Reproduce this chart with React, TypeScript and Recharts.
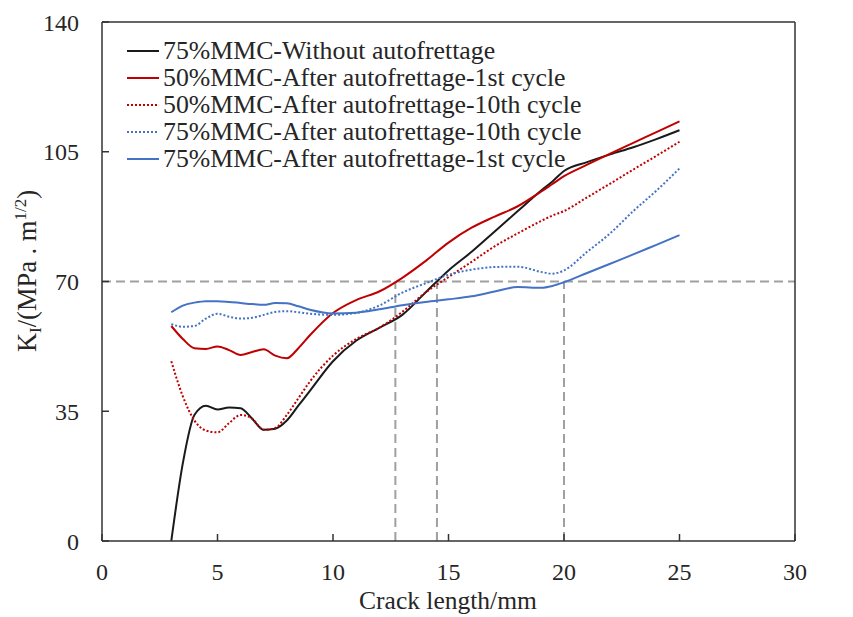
import { LineChart, Line, XAxis, YAxis, ReferenceLine, Legend } from "recharts";

const FONT = '"Liberation Serif", "Times New Roman", serif';

// crack length (mm)
const crackLength = [3, 3.5, 4, 4.5, 5, 5.5, 6, 6.5, 7, 7.5, 8, 8.5, 9, 10, 11, 12, 13, 14, 15, 16, 17, 18, 19, 19.5, 20, 21, 22, 23, 24, 25];

// K_I values (MPa.m^1/2)
const mmc75Without = [0, 21, 34, 36.5, 35.5, 36, 35.8, 33, 30, 30.3, 32.5, 36.5, 40.5, 48.5, 54, 57.5, 61, 67, 73, 78, 83.5, 89, 94.5, 97, 99.8, 102.2, 104.3, 106.2, 108.4, 110.8];
const mmc50First = [58, 54.5, 52, 51.8, 52.5, 51.5, 50.2, 51, 51.7, 50, 49.3, 52, 55.5, 61.5, 65, 67.3, 71, 75.5, 80.5, 84.5, 87.5, 90.3, 94.2, 96.3, 98.4, 101.5, 104.5, 107.4, 110.3, 113.2];
const mmc50Tenth = [48.5, 39, 32.5, 29.8, 29.3, 31.8, 34, 33, 30, 30.5, 34, 38.5, 43, 50, 54.5, 57.5, 61.8, 67, 71.2, 75.3, 79.5, 83, 86.3, 87.8, 89, 92.7, 96.4, 100.2, 103.9, 107.7];
const mmc75Tenth = [58.5, 57.8, 58, 60, 61.3, 60.5, 60, 60.2, 61, 61.8, 62, 61.7, 61.3, 61, 61.5, 63.5, 67, 69.5, 71.8, 73.2, 73.9, 74, 72.6, 72.1, 73, 78, 83, 89, 94.5, 100.5];
const mmc75First = [61.7, 63.5, 64.3, 64.7, 64.7, 64.5, 64.2, 63.9, 63.7, 64.2, 64.1, 63.3, 62.4, 61.4, 61.6, 62.5, 63.6, 64.5, 65.2, 66, 67.3, 68.5, 68.3, 68.8, 69.8, 72.3, 74.8, 77.3, 79.9, 82.5];

const crackTicks = [0, 5, 10, 15, 20, 25, 30];
const kTicks = [0, 35, 70, 105, 140];
const kThreshold = 70;
const thresholdCrack = [12.7, 14.5, 20];

const series = [
  { key: "mmc75Without", name: "75%MMC-Without autofrettage", color: "#1a1a1a", dash: undefined, values: mmc75Without },
  { key: "mmc50First", name: "50%MMC-After autofrettage-1st cycle", color: "#c00000", dash: undefined, values: mmc50First },
  { key: "mmc50Tenth", name: "50%MMC-After autofrettage-10th cycle", color: "#c00000", dash: "2 2", values: mmc50Tenth },
  { key: "mmc75Tenth", name: "75%MMC-After autofrettage-10th cycle", color: "#4472c4", dash: "2 2", values: mmc75Tenth },
  { key: "mmc75First", name: "75%MMC-After autofrettage-1st cycle", color: "#4472c4", dash: undefined, values: mmc75First },
];

const data = crackLength.map((x, i) => {
  const row: any = { crack: x };
  series.forEach((s) => (row[s.key] = s.values[i]));
  return row;
});

const tickStyle = { fontSize: 24, fill: "#262626", fontFamily: FONT };

const renderKTitle = () => (
  <text transform="translate(28,263) rotate(-90)" textAnchor="middle" fontSize={26.5} fontFamily={FONT} fill="#262626">
    K<tspan fontSize={17} dy={5}>I</tspan>
    <tspan dy={-5}>/(MPa . m</tspan>
    <tspan fontSize={17} dy={-10}>1/2</tspan>
    <tspan dy={10}>)</tspan>
  </text>
);

const renderCrackTitle = () => (
  <text x={440} y={601} textAnchor="middle" fontSize={25.5} fontFamily={FONT} fill="#262626">
    Crack length/mm
  </text>
);

const renderLegend = () => (
  <div style={{ fontFamily: FONT, fontSize: 25.8, color: "#262626", lineHeight: "27px" }}>
    {series.map((s) => (
      <div key={s.key} style={{ display: "flex", alignItems: "center", height: 27, whiteSpace: "nowrap" }}>
        <svg width={36} height={6}>
          <line x1={0} x2={32} y1={3} y2={3} stroke={s.color} strokeWidth={2} strokeDasharray={s.dash} />
        </svg>
        <span>{s.name}</span>
      </div>
    ))}
  </div>
);

export default function App() {
  return (
    <div style={{ width: 837, height: 609 }}>
      <LineChart width={837} height={609} data={data} margin={{ top: 14, right: 0, bottom: 0, left: 0 }}>
        <XAxis
          type="number"
          dataKey="crack"
          domain={[0, 30]}
          ticks={crackTicks}
          interval={0}
          height={76}
          tickSize={-7}
          tickMargin={29}
          tick={tickStyle}
          axisLine={{ stroke: "#333", strokeWidth: 1.5 }}
          tickLine={{ stroke: "#333", strokeWidth: 1.5 }}
          label={renderCrackTitle}
        />
        <YAxis
          yAxisId="left"
          domain={[0, 140]}
          ticks={kTicks}
          interval={0}
          width={94}
          tickSize={-7}
          tickMargin={30}
          tick={tickStyle}
          axisLine={{ stroke: "#333", strokeWidth: 1.5 }}
          tickLine={{ stroke: "#333", strokeWidth: 1.5 }}
          label={renderKTitle}
        />
        <YAxis
          yAxisId="right"
          orientation="right"
          domain={[0, 140]}
          ticks={kTicks}
          interval={0}
          width={50}
          tickSize={-7}
          tickMargin={30}
          tick={tickStyle}
          axisLine={{ stroke: "#333", strokeWidth: 1.5 }}
          tickLine={{ stroke: "#333", strokeWidth: 1.5 }}
        />
        <ReferenceLine yAxisId="left" y={140} stroke="#333" strokeWidth={1.5} />
        <ReferenceLine yAxisId="left" y={kThreshold} stroke="#a0a0a0" strokeWidth={2} strokeDasharray="9 5" />
        {thresholdCrack.map((c) => (
          <ReferenceLine
            key={c}
            yAxisId="left"
            segment={[{ x: c, y: 0 }, { x: c, y: kThreshold }]}
            stroke="#a0a0a0"
            strokeWidth={2}
            strokeDasharray="9 5"
          />
        ))}
        <Legend
          content={renderLegend}
          layout="vertical"
          align="center"
          verticalAlign="middle"
          wrapperStyle={{ top: 29, left: 119, width: "auto" }}
        />
        {series.map((s) => (
          <Line
            key={s.key}
            yAxisId="left"
            type="monotone"
            dataKey={s.key}
            name={s.name}
            stroke={s.color}
            strokeWidth={2}
            strokeDasharray={s.dash}
            dot={false}
            activeDot={false}
            isAnimationActive={false}
          />
        ))}
      </LineChart>
    </div>
  );
}
